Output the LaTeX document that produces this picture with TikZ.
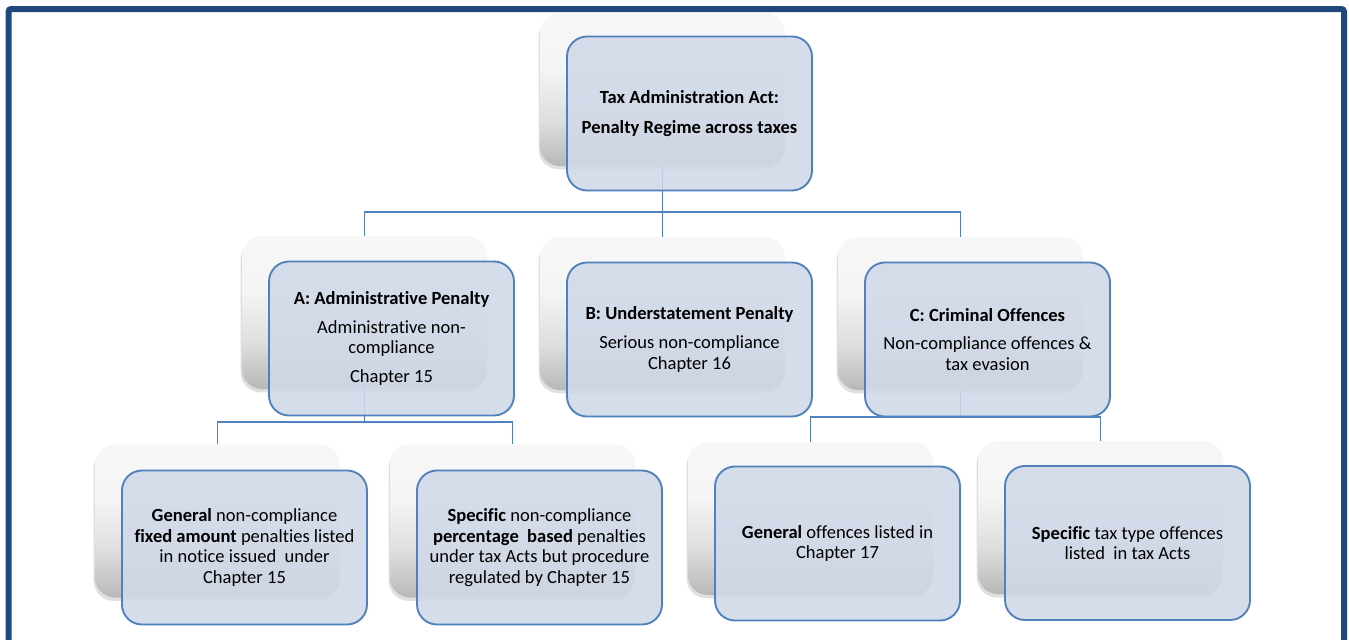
\documentclass[tikz,border=0pt]{standalone}
\usepackage{fontspec}
\setmainfont{Carlito}[Ligatures=NoCommon]
\usetikzlibrary{shadows,calc}

\definecolor{framebl}{RGB}{31,73,125}
\definecolor{linebl}{RGB}{79,129,189}
\definecolor{boxfill}{RGB}{208,216,232}

% light on top, grey towards the bottom
\pgfdeclareverticalshading{backshade}{100bp}{color(0bp)=(black!28); color(25bp)=(black!28);
  color(40bp)=(black!13); color(57bp)=(black!4); color(75bp)=(black!3); color(100bp)=(black!3)}

\tikzset{
  backbox/.style={rounded corners=15pt, minimum width=183.75pt, minimum height=114.75pt,
    inner sep=0pt, shade, shading=backshade,
    drop shadow={shadow xshift=-1pt, shadow yshift=-2.5pt, opacity=0.25}},
  frontbox/.style={rounded corners=15pt, minimum width=183.75pt, minimum height=115.5pt,
    inner sep=0pt, draw=linebl, line width=1.4pt, fill=boxfill, fill opacity=0.88,
    text opacity=1, align=center, font=\fontsize{13.9}{15.5}\selectfont},
  conn/.style={draw=linebl, line width=1.3pt}
}

\begin{document}
\begin{tikzpicture}[x=0.75pt, y=-0.75pt]
    \useasboundingbox (0,0) rectangle (1349,639);
    \fill[white] (0,0) rectangle (1349,639);
    \draw[framebl, line width=4.5pt, rounded corners=2pt] (8.5,9) rectangle (1344,700);

    % back boxes
    \node[backbox] (topb) at (662.5,89.5) {};
    \node[backbox] (adminb) at (364.5,312.5) {};
    \node[backbox] (understb) at (662.5,313.5) {};
    \node[backbox] (crimb) at (960.5,313.5) {};
    \node[backbox] (genfixb) at (217.5,521) {};
    \node[backbox] (specpctb) at (512.5,521) {};
    \node[backbox] (genoffb) at (810.5,518.5) {};
    \node[backbox] (spectaxb) at (1100.5,517.5) {};

    % connectors
    \coordinate (bus1) at (662.5,212);
    \coordinate (bus2) at (364.5,422);
    \coordinate (bus3) at (960.5,417);
    \draw[conn] (topb.south) -- (bus1);
    \draw[conn] (adminb.north) |- (bus1);
    \draw[conn] (crimb.north) |- (bus1);
    \draw[conn] (understb.north) -- (bus1);
    \draw[conn] (adminb.south) -- (bus2);
    \draw[conn] (genfixb.north) |- (bus2);
    \draw[conn] (specpctb.north) |- (bus2);
    \draw[conn] (crimb.south) -- (bus3);
    \draw[conn] (genoffb.north) |- (bus3);
    \draw[conn] (spectaxb.north) |- (bus3);

    % front boxes
    \node[frontbox] (topf) at ([shift={(27,24)}]topb.center)
      {\textbf{Tax Administration Act:}\\[7pt]\textbf{Penalty Regime across taxes}};
    \node[frontbox] (adminf) at ([shift={(27,26)}]adminb.center)
      {\textbf{A: Administrative Penalty}\\[6pt]Administrative non-\\compliance\\[6pt]Chapter 15};
    \node[frontbox] (understf) at ([shift={(27,26)}]understb.center)
      {\textbf{B: Understatement Penalty}\\[6pt]Serious non-compliance\\Chapter 16};
    \node[frontbox] (crimf) at ([shift={(27,26)}]crimb.center)
      {\textbf{C: Criminal Offences}\\[6pt]Non-compliance offences \&\\tax evasion};
    \node[frontbox] (genfixf) at ([shift={(27,26.5)}]genfixb.center)
      {\textbf{General} non-compliance\\\textbf{fixed amount} penalties listed\\in notice issued\ \ under\\Chapter 15};
    \node[frontbox] (specpctf) at ([shift={(27,26.5)}]specpctb.center)
      {\textbf{Specific} non-compliance\\\textbf{percentage\ \ based} penalties\\under tax Acts but procedure\\regulated by Chapter 15};
    \node[frontbox] (genofff) at ([shift={(27,25)}]genoffb.center)
      {\textbf{General} offences listed in\\Chapter 17};
    \node[frontbox] (spectaxf) at ([shift={(27,25.5)}]spectaxb.center)
      {\textbf{Specific} tax type offences\\listed\ \ in tax Acts};
\end{tikzpicture}
\end{document}
